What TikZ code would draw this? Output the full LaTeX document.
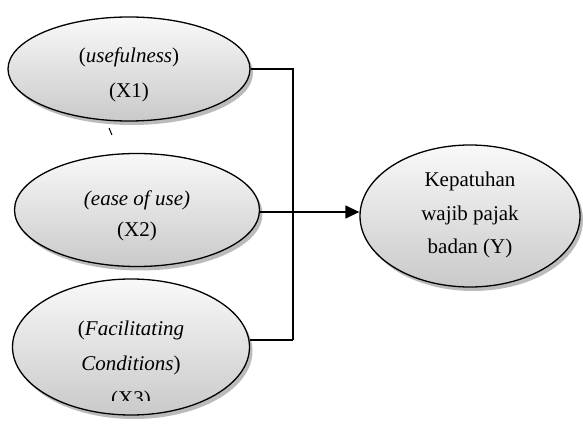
\documentclass[tikz,border=0pt]{standalone}
\usepackage{fontspec}
\setmainfont{Liberation Serif}
\usetikzlibrary{shapes.geometric,shadows,arrows.meta}
\begin{document}
\begin{tikzpicture}[x=1pt,y=-1pt,
  var/.style={ellipse,draw=black,line width=1.3pt,inner sep=0pt,
    top color=gray!5,bottom color=gray!42,
    drop shadow={shadow xshift=3pt,shadow yshift=-4pt,fill=gray!75,opacity=0.7}},
  lbl/.style={align=center,font=\fontsize{21}{35}\selectfont,inner sep=0pt},
  conn/.style={line width=1.3pt}]
\useasboundingbox[fill=white] (0,0) rectangle (583,427);
\node[var,minimum width=242pt,minimum height=104pt] (e1) at (129,69) {};
\node[var,minimum width=245pt,minimum height=113pt] (e2) at (137,210) {};
\node[var,minimum width=237pt,minimum height=136pt] (e3) at (131,347) {};
\node[var,minimum width=220pt,minimum height=142pt] (ey) at (470,216) {};
\node[lbl] (t1) at (129,75) {(\textit{usefulness})\\(X1)};
\node[lbl,font=\fontsize{21}{31}\selectfont] (t2) at (137,216) {\textit{(ease of use)}\\(X2)};
\begin{scope}
\clip (0,0) rectangle (583,400);
\node[lbl] (t3) at (131,365) {(\textit{Facilitating}\\\textit{Conditions})\\(X3)};
\end{scope}
\node[lbl,font=\fontsize{21}{33.5}\selectfont] (ty) at (470,215) {Kepatuhan\\wajib pajak\\badan (Y)};
\coordinate (j1) at (293,69);
\coordinate (j2) at (293,212);
\coordinate (j3) at (293,340);
\coordinate (k1) at (109,128);
\coordinate (k2) at (112,135);
\draw[conn] (e1.east) -- (j1) -- (j3);
\draw[conn] (e3.east |- j3) -- (j3);
\draw[conn,-{Triangle[length=14pt,width=13pt]}] (e2.east |- j2) -- (ey.west |- j2);
\draw[line width=1pt] (k1) -- (k2);
\end{tikzpicture}
\end{document}
